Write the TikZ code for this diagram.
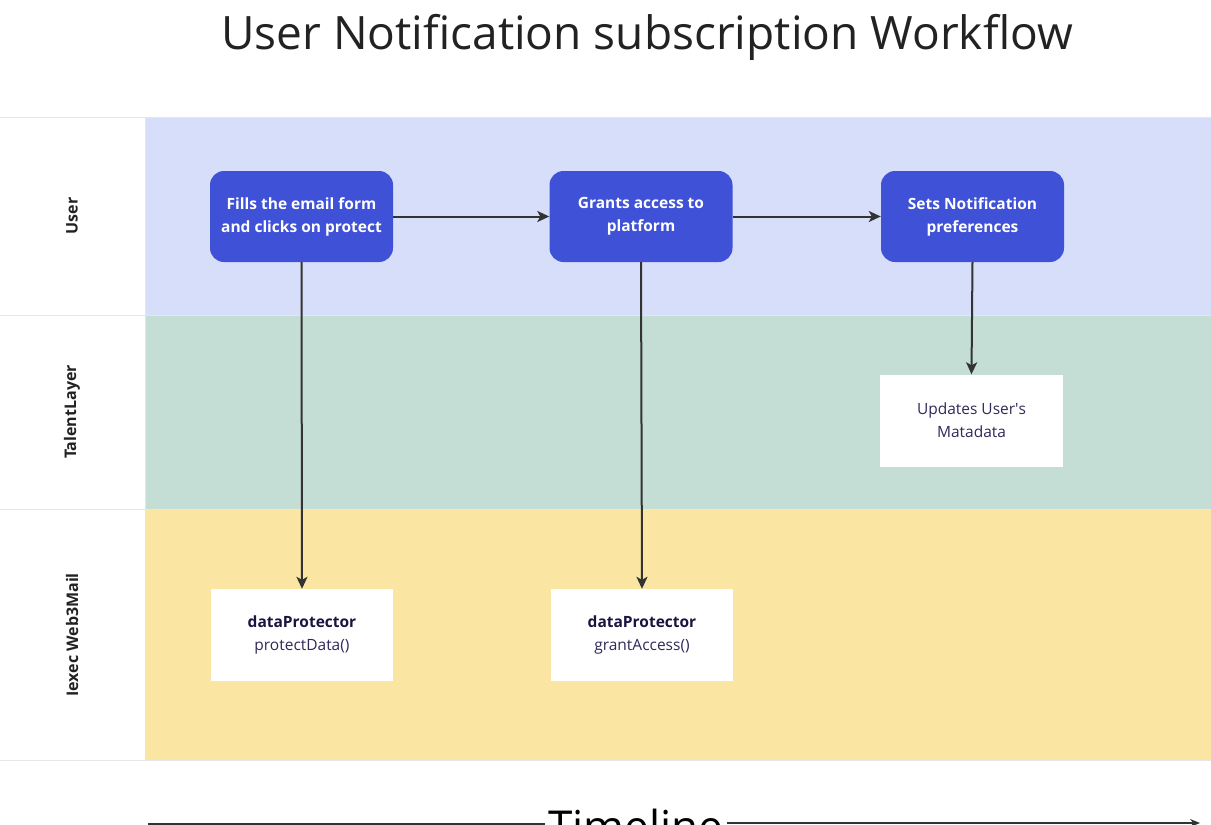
\documentclass[tikz,border=0pt]{standalone}
\usepackage{fontspec}
\setmainfont{Open Sans}
\usetikzlibrary{arrows.meta}
\definecolor{laneA}{HTML}{D7DEFA}
\definecolor{laneB}{HTML}{C4DED6}
\definecolor{laneC}{HTML}{FAE6A2}
\definecolor{boxblue}{HTML}{3F51D7}
\definecolor{sepgray}{HTML}{E6E6E6}
\definecolor{txtdark}{HTML}{222222}
\definecolor{boxtxt}{HTML}{2E2A5A}
\definecolor{boxtxtb}{HTML}{1A1540}
\definecolor{arrowgray}{HTML}{333333}
\tikzset{
  x=1pt, y=-1pt,
  actbox/.style={rectangle, rounded corners=14pt, fill=boxblue, text=white, font=\fontsize{15.5}{23}\selectfont\bfseries, align=center, minimum width=183pt, minimum height=91pt, inner sep=0pt},
  whitebox/.style={rectangle, fill=white, text=boxtxt, font=\fontsize{15.5}{23}\selectfont, align=center, minimum width=183pt, minimum height=92pt, inner sep=0pt},
  lanelabel/.style={rotate=90, font=\fontsize{16}{19}\selectfont\bfseries, text=txtdark},
  flow/.style={draw=arrowgray, line width=2pt, -{Stealth[length=12pt,width=11pt,inset=3pt]}},
}
\begin{document}
\begin{tikzpicture}
\useasboundingbox (0,0) rectangle (1211,825);
\clip (0,0) rectangle (1211,825);
% lanes
\fill[laneA] (145,117) rectangle (1211,315);
\fill[laneB] (145,315) rectangle (1211,509);
\fill[laneC] (145,509) rectangle (1211,760);
\draw[sepgray, line width=1pt] (0,117) -- (1211,117);
\draw[sepgray, line width=1pt] (0,315) -- (1211,315);
\draw[sepgray, line width=1pt] (0,509) -- (1211,509);
\draw[sepgray, line width=1pt] (0,760) -- (1211,760);
\draw[sepgray, line width=1pt] (145,117) -- (145,760);
% title
\node[font=\fontsize{46}{50}\selectfont, text=txtdark] (title) at (647,37) {User Notification subscription Workflow};
% lane labels
\node[lanelabel] (lUser) at (72,216) {User};
\node[lanelabel] (lTalent) at (72,412) {TalentLayer};
\node[lanelabel] (lIexec) at (72,635) {Iexec Web3Mail};
% boxes
\node[actbox] (b1) at (301.5,216.5) {\rule{0pt}{3pt}Fills the email form\\and clicks on protect};
\node[actbox] (b2) at (641,216.5) {\rule{0pt}{3pt}Grants access to\\platform};
\node[actbox] (b3) at (972.5,216.5) {\rule{0pt}{3pt}Sets Notification\\preferences};
\node[whitebox] (up) at (971.5,420.5) {Updates User\textquotesingle s\\Matadata};
\node[whitebox, minimum width=182pt] (dp1) at (302,635) {{\color{boxtxtb}\bfseries dataProtector}\\protectData()};
\node[whitebox, minimum width=182pt] (dp2) at (642,635) {{\color{boxtxtb}\bfseries dataProtector}\\grantAccess()};
% connectors
\draw[flow] (b1.east) -- (b2.west);
\draw[flow] (b2.east) -- (b3.west);
\draw[flow] (b1.south) -- (dp1.north);
\draw[flow] (b2.south) -- (dp2.north);
\draw[flow] (b3.south) -- (up.north);
% timeline
\node[font=\fontsize{44}{48}\selectfont, text=black, anchor=base] (tl) at (636,842) {Timeline};
\coordinate (tlstart) at (148,824);
\coordinate (tlend) at (1200,823);
\draw[draw=arrowgray, line width=1.2pt] (tlstart) -- (tl.west |- tlstart);
\draw[draw=arrowgray, line width=1.2pt, -{Stealth[length=10pt,width=8pt]}] (tl.east |- tlend) -- (tlend);
\end{tikzpicture}
\end{document}
